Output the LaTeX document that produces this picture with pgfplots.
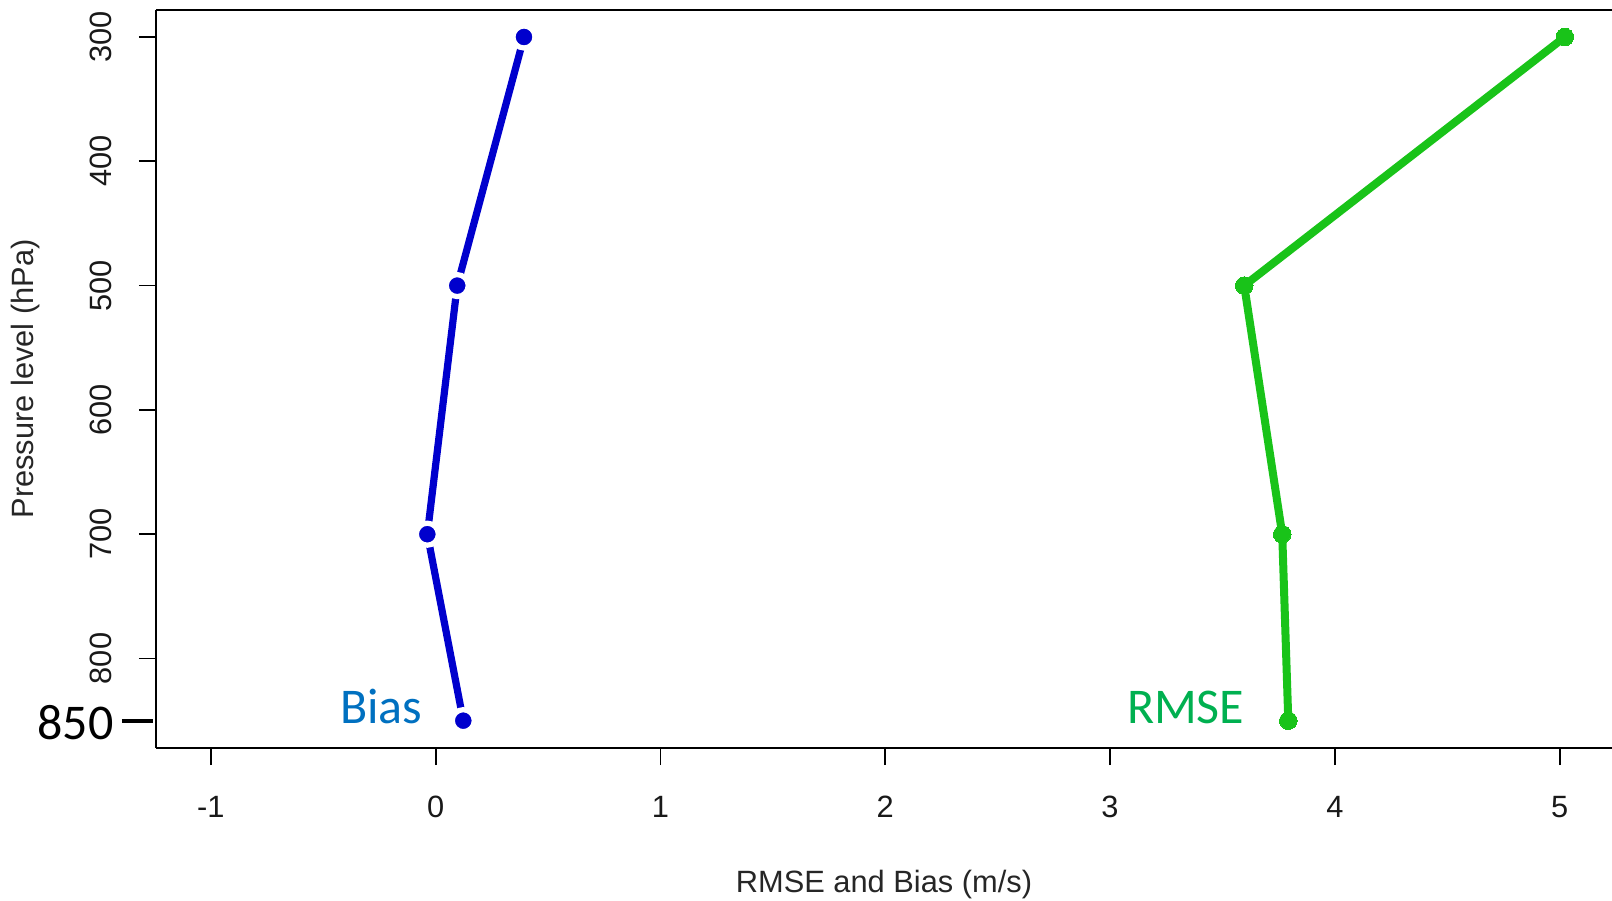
\documentclass[border=0pt]{standalone}
\usepackage{fontspec}
\setmainfont{Liberation Sans}
\newfontfamily\carlito{Carlito}
\usepackage{pgfplots}
\pgfplotsset{compat=1.18}
\usetikzlibrary{calc}
\definecolor{bblue}{RGB}{0,0,205}
\definecolor{rgreen}{RGB}{25,195,25}
\definecolor{txtblue}{RGB}{0,112,192}
\definecolor{txtgreen}{RGB}{0,176,80}
\begin{document}
\begin{tikzpicture}
\begin{axis}[
  scale only axis, width=728pt, height=369pt,
  xmin=-1.244, xmax=5.233, ymin=278.3, ymax=872, y dir=reverse,
  axis x line*=box, axis y line*=left,
  axis line style={line width=1.1pt, black},
  xtick={-1,0,1,2,3,4,5}, ytick={300,400,500,600,700,800},
  xtick pos=lower, ytick pos=left,
  tick align=outside, major tick length=8.5pt,
  tick style={line width=0.9pt, black},
  font=\fontsize{15.4}{18}\selectfont,
  /pgf/number format/assume math mode=true,
  xticklabel style={anchor=center, yshift=-21pt, text=black!90},
  yticklabel style={anchor=center, xshift=-18.8pt, rotate=90, text=black!90},
  xlabel={RMSE and Bias (m/s)},
  ylabel={Pressure level (hPa)},
  xlabel style={at={(axis description cs:0.5,-0.1856)}, anchor=center, text=black!85},
  ylabel style={at={(axis description cs:-0.0893,0.5)}, anchor=center, text=black!85},
  clip=false,
]
\addplot[bblue, line width=3.6pt, mark=*, mark size=5.5pt,
  mark options={solid, draw=white, line width=2.6pt, fill=bblue}]
  coordinates {(0.393,300) (0.096,500) (-0.037,700) (0.123,850)};
\addplot[rgreen, line width=4pt, mark=*, mark size=4.4pt,
  mark options={solid, fill=rgreen, draw=rgreen, line width=0pt}]
  coordinates {(5.023,300) (3.597,500) (3.766,700) (3.793,850)};
\node[anchor=base west, inner sep=0pt, text=txtblue, font=\carlito\fontsize{25}{30}\selectfont] at (axis cs:-0.427,851.9) {Bias};
\node[anchor=base west, inner sep=0pt, text=txtgreen, font=\carlito\fontsize{25}{30}\selectfont] at (axis cs:3.074,851.9) {RMSE};
\node[anchor=base east, inner sep=0pt, text=black, font=\carlito\fontsize{25}{30}\selectfont] at (axis cs:-1.432,865.5) {850};
\draw[black, line width=2pt] (axis cs:-1.396,850) -- (axis cs:-1.258,850);
\coordinate (BL) at (rel axis cs:0,0);
\end{axis}
\pgfresetboundingbox
\path[use as bounding box] ($(BL)+(-78pt,-76pt)$) rectangle ($(BL)+(728pt,374pt)$);
\end{tikzpicture}
\end{document}
